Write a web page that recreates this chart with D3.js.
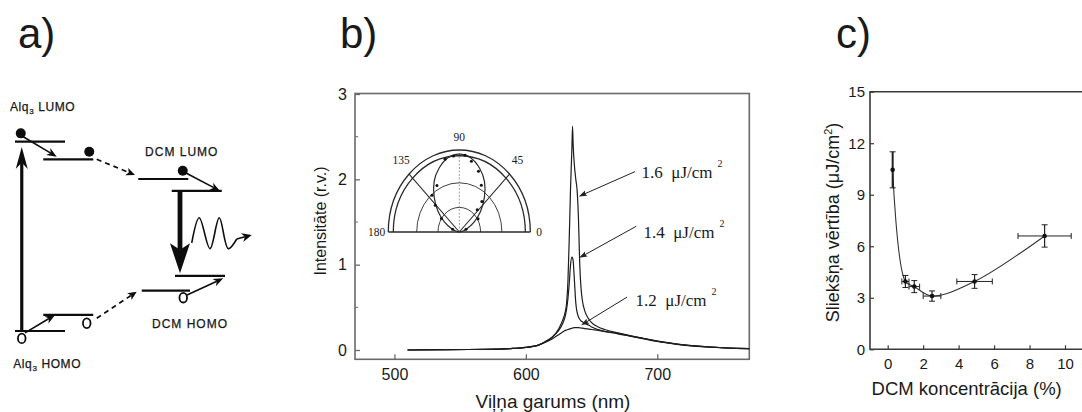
<!DOCTYPE html>
<html><head><meta charset="utf-8">
<script src="https://cdn.jsdelivr.net/npm/d3@7/dist/d3.min.js"></script>
<style>
html,body{margin:0;padding:0;background:#fff;}
svg{display:block;}
text{font-family:"Liberation Sans",Arial,Helvetica,sans-serif;fill:#1a1a1a;}
.serif{font-family:"Liberation Serif","Times New Roman",serif;}
</style></head><body>
<svg id="fig" width="1082" height="412"></svg>
<script>
// ---------- panel b: emission spectra at three pump fluences ----------
const wavelengths = [510,540,570,590,600,610,615,620,625,628,630,631,632,633,634,635,635.5,636,637,638,639,640,641,642,643,645,648,650,655,660,670,680,690,700,710,720,740,760,770];
const spectrum16 = [0.0,0.004,0.008,0.018,0.03,0.06,0.1,0.15,0.25,0.35,0.45,0.55,0.8,1.3,1.9,2.35,2.62,2.4,2.15,2.0,1.87,1.55,1.0,0.72,0.58,0.45,0.36,0.32,0.27,0.24,0.2,0.165,0.135,0.105,0.08,0.06,0.035,0.02,0.015];
const spectrum14 = [0.0,0.004,0.008,0.018,0.03,0.06,0.1,0.15,0.23,0.31,0.4,0.48,0.6,0.78,1.0,1.09,1.08,1.04,0.8,0.55,0.44,0.39,0.36,0.34,0.33,0.31,0.29,0.27,0.24,0.22,0.195,0.163,0.133,0.104,0.08,0.06,0.035,0.02,0.015];
const spectrum12 = [0.0,0.004,0.008,0.018,0.03,0.06,0.09,0.13,0.18,0.21,0.23,0.235,0.24,0.245,0.25,0.255,0.258,0.26,0.262,0.263,0.263,0.262,0.26,0.258,0.256,0.25,0.245,0.24,0.23,0.215,0.19,0.16,0.13,0.1,0.078,0.058,0.034,0.02,0.015];
const fluenceLabels = ["1.6", "1.4", "1.2"];
// label anchor and arrow tail/tip, in (nm, intensity)
const fluenceLabelPos = [[688, 2.02], [689.5, 1.31], [683.5, 0.51]];
const fluenceArrowTail = [[683, 2.09], [684, 1.45], [677, 0.62]];
const fluenceArrowTip = [[640.3, 1.8], [640.6, 1.08], [642, 0.29]];
const xTicksB = [500, 600, 700];
const yTicksB = [0, 1, 2, 3];
const yMinorB = [0.5, 1.5, 2.5];

// polar inset: emission angular distribution
const polarAngles = [0,10,20,30,40,50,60,70,80,90,100,110,120,130,140,150,160,170,180];
const polarFit = [0,0.03,0.11,0.24,0.39,0.55,0.71,0.83,0.92,0.95,0.92,0.83,0.71,0.55,0.39,0.24,0.11,0.03,0];
const polarPointAngles = [102.7,78.8,70,119,61.5,130.7,136,49.5,47,147,31.6,95,160,20,85];
const polarPointR = [0.91,0.88,0.79,0.65,0.65,0.59,0.47,0.49,0.37,0.30,0.31,0.93,0.1,0.1,0.94];
const polarRings = [0.3, 0.6, 0.93, 1.0];
const polarSpokes = [45, 135];
const polarLabels = [0, 45, 90, 135, 180];

// ---------- panel c: lasing threshold vs DCM concentration ----------
const concentration = [0.28, 1.0, 1.5, 2.5, 4.9, 8.85];
const threshold = [10.45, 3.95, 3.65, 3.1, 3.95, 6.6];
const concentrationErr = [0, 0.2, 0.3, 0.5, 1.0, 1.5];
const thresholdErr = [1.05, 0.35, 0.35, 0.3, 0.4, 0.65];
const xTicksC = [0, 2, 4, 6, 8, 10];
const yTicksC = [0, 3, 6, 9, 12, 15];

// ---------- panel a: energy level scheme (diagram units) ----------
const levels = [
  {x0:0, x1:2, e:10}, {x0:1.13, x1:3.13, e:9.07}, {x0:4.93, x1:6.93, e:8.03},
  {x0:6.27, x1:8.27, e:7.40}, {x0:6.4, x1:8.4, e:2.91}, {x0:5.07, x1:7.0, e:2.13},
  {x0:1.13, x1:3.13, e:0.85}, {x0:0, x1:2, e:0}
];
const electrons = [[0.23, 10.44], [2.97, 9.47], [6.71, 8.47]];
const holes = [[2.87, 0.41], [6.73, 1.76], [0.27, -0.39]];
const relaxArrows = [[[0.28,10.3],[1.67,9.21]], [[6.84,8.35],[8.2,7.40]], [[6.88,1.90],[8.33,2.78]], [[0.4,-0.1],[1.6,0.85]]];
const transferArrows = [[[3.27,9.07],[4.8,8.24]], [[3.27,0.67],[4.87,2.08]]];
const photonWave = [[7.07,4.65],[7.37,5.98],[7.8,4.35],[8.17,5.98],[8.53,4.35],[8.87,4.86],[9.47,5.07]];
const levelNames = [
  {t:"Alq", sub:"3", rest:" LUMO", x:-0.2, e:11.6, anchor:"start"},
  {t:"DCM LUMO", x:6.67, e:9.25, anchor:"middle"},
  {t:"DCM HOMO", x:7.0, e:0.18, anchor:"middle"},
  {t:"Alq", sub:"3", rest:" HOMO", x:-0.07, e:-1.94, anchor:"start"}
];

const svg = d3.select("#fig");
svg.append("rect").attr("width", 1082).attr("height", 412).attr("fill", "#fff");

function arrowHead(g, x1, y1, x2, y2, len, half, notch, color) {
  const a = Math.atan2(y2 - y1, x2 - x1);
  const ux = Math.cos(a), uy = Math.sin(a), px = -uy, py = ux;
  const bx = x2 - ux * len, by = y2 - uy * len;
  const nx = x2 - ux * len * (1 - notch), ny = y2 - uy * len * (1 - notch);
  g.append("path")
    .attr("d", `M${x2},${y2}L${bx + px * half},${by + py * half}L${nx},${ny}L${bx - px * half},${by - py * half}Z`)
    .attr("fill", color);
  return [nx, ny];
}
function arrow(g, x1, y1, x2, y2, opt) {
  const end = arrowHead(g, x1, y1, x2, y2, opt.len, opt.half, opt.notch, opt.color);
  g.append("line").attr("x1", x1).attr("y1", y1).attr("x2", end[0]).attr("y2", end[1])
    .attr("stroke", opt.color).attr("stroke-width", opt.width)
    .attr("stroke-dasharray", opt.dash || null);
}

// panel letters
[["a)", 18], ["b)", 340], ["c)", 836]].forEach(([t, x]) => {
  svg.append("text").attr("x", x).attr("y", 48).attr("font-size", 42).text(t);
});

// ================= panel a =================
{
  const g = svg.append("g");
  const dx = d3.scaleLinear([0, 10], [15, 265]);
  const de = d3.scaleLinear([0, 10], [331, 141.7]);
  const ink = "#0d0d0d";

  g.selectAll(".lvl").data(levels).join("line")
    .attr("x1", d => dx(d.x0)).attr("x2", d => dx(d.x1))
    .attr("y1", d => de(d.e)).attr("y2", d => de(d.e))
    .attr("stroke", ink).attr("stroke-width", 2.2);

  // pump absorption (up) and stimulated emission (down)
  arrow(g, dx(0.27), de(0), dx(0.27), de(9.72), {len: 22, half: 6, notch: 0.3, color: ink, width: 3.2});
  arrow(g, dx(6.6), de(7.36), dx(6.6), de(3.05), {len: 30, half: 10, notch: 0.22, color: ink, width: 4.8});

  relaxArrows.forEach(([a, b]) => arrow(g, dx(a[0]), de(a[1]), dx(b[0]), de(b[1]), {len: 10, half: 4, notch: 0.3, color: ink, width: 1.6}));
  transferArrows.forEach(([a, b]) => arrow(g, dx(a[0]), de(a[1]), dx(b[0]), de(b[1]), {len: 9, half: 4, notch: 0.25, color: ink, width: 1.7, dash: "5,4"}));

  // emitted photon
  const wave = d3.line().x(d => dx(d[0])).y(d => de(d[1])).curve(d3.curveCatmullRom.alpha(0.5));
  const wp = photonWave.slice(0, -1);
  g.append("path").attr("d", wave(wp)).attr("fill", "none").attr("stroke", ink).attr("stroke-width", 1.6);
  const last = photonWave[photonWave.length - 1], prev = photonWave[photonWave.length - 2];
  arrow(g, dx(prev[0]), de(prev[1]), dx(last[0]), de(last[1]), {len: 10, half: 4.5, notch: 0.3, color: ink, width: 1.6});

  // carriers
  g.selectAll(".el").data(electrons).join("circle")
    .attr("cx", d => dx(d[0])).attr("cy", d => de(d[1])).attr("r", 5).attr("fill", ink);
  g.selectAll(".ho").data(holes).join("ellipse")
    .attr("cx", d => dx(d[0])).attr("cy", d => de(d[1])).attr("rx", 3.8).attr("ry", 4.8)
    .attr("fill", "#fff").attr("stroke", ink).attr("stroke-width", 1.8);

  levelNames.forEach(d => {
    const t = g.append("text").attr("x", dx(d.x)).attr("y", de(d.e))
      .attr("font-size", 12).attr("letter-spacing", d.sub ? 0.6 : 1.0)
      .attr("text-anchor", d.anchor).attr("fill", "#111")
      .attr("stroke", "#111").attr("stroke-width", 0.25);
    if (d.sub) {
      t.append("tspan").text(d.t);
      t.append("tspan").attr("font-size", 8).attr("dy", 3).text(d.sub);
      t.append("tspan").attr("dy", -3).text(d.rest);
    } else t.text(d.t);
  });
}

// ================= panel b =================
{
  const g = svg.append("g");
  const L = 355, R = 749.3, T = 93.5, B = 359.3;
  const x = d3.scaleLinear([470, 770], [L, R]);
  const y = d3.scaleLinear([0, 3], [350, 94]);
  const axisCol = "#6a6a6a";

  g.append("rect").attr("x", L).attr("y", T).attr("width", R - L).attr("height", B - T)
    .attr("fill", "none").attr("stroke", axisCol).attr("stroke-width", 1.6);

  const ya = g.append("g").attr("transform", `translate(${L},0)`)
    .call(d3.axisLeft(y).tickValues(yTicksB).tickSizeInner(-5).tickSizeOuter(0).tickPadding(8).tickFormat(d3.format("d")));
  ya.select(".domain").remove();
  ya.selectAll("line").attr("stroke", axisCol).attr("stroke-width", 1.3);
  ya.selectAll("text").attr("font-size", 16).attr("font-family", "Liberation Sans, Arial, sans-serif").attr("fill", "#1a1a1a");
  g.selectAll(".ymin").data(yMinorB).join("line")
    .attr("x1", L).attr("x2", L + 3).attr("y1", d => y(d)).attr("y2", d => y(d))
    .attr("stroke", axisCol).attr("stroke-width", 1);

  const xa = g.append("g").attr("transform", `translate(0,${B})`)
    .call(d3.axisBottom(x).tickValues(xTicksB).tickSizeInner(-5).tickSizeOuter(0).tickPadding(9).tickFormat(d3.format("d")));
  xa.select(".domain").remove();
  xa.selectAll("line").attr("stroke", axisCol).attr("stroke-width", 1.3);
  xa.selectAll("text").attr("font-size", 16).attr("font-family", "Liberation Sans, Arial, sans-serif").attr("fill", "#1a1a1a");

  g.append("text").attr("x", 553).attr("y", 408).attr("text-anchor", "middle").attr("font-size", 19).text("Viļņa garums (nm)");
  g.append("text").attr("transform", "translate(326,221) rotate(-90)").attr("text-anchor", "middle")
    .attr("font-size", 16).text("Intensitāte (r.v.)");

  const line = d3.line().x((d, i) => x(wavelengths[i])).y(d => y(d)).curve(d3.curveMonotoneX);
  [spectrum12, spectrum14, spectrum16].forEach(s => {
    g.append("path").attr("d", line(s)).attr("fill", "none").attr("stroke", "#1c1c1c").attr("stroke-width", 1.2);
  });

  fluenceLabels.forEach((lab, i) => {
    const [lx, ly] = fluenceLabelPos[i];
    const t = g.append("text").attr("class", "serif").attr("x", x(lx)).attr("y", y(ly)).attr("font-size", 17);
    t.append("tspan").text(lab + "\u00a0 \u03bcJ/cm");
    t.append("tspan").attr("font-size", 10).attr("dx", 5).attr("dy", -11).text("2");
    const a = fluenceArrowTail[i], b = fluenceArrowTip[i];
    arrow(g, x(a[0]), y(a[1]), x(b[0]), y(b[1]), {len: 8, half: 2.8, notch: 0.15, color: "#222", width: 1});
  });

  // polar inset
  const cx = 459.3, cy = 232;
  const rx = d3.scaleLinear([0, 1], [0, 71]);
  const ry = d3.scaleLinear([0, 1], [0, 82]);
  const pol = (deg, r) => [cx + rx(r) * Math.cos(deg * Math.PI / 180), cy - ry(r) * Math.sin(deg * Math.PI / 180)];
  const ink = "#2a2a2a";
  polarRings.forEach(r => {
    g.append("path").attr("d", `M${cx + rx(r)},${cy}A${rx(r)},${ry(r)} 0 0 0 ${cx - rx(r)},${cy}`)
      .attr("fill", "none").attr("stroke", ink).attr("stroke-width", r > 0.9 ? 1.3 : 0.9);
  });
  polarSpokes.forEach(a => {
    const p = pol(a, 1);
    g.append("line").attr("x1", cx).attr("y1", cy).attr("x2", p[0]).attr("y2", p[1]).attr("stroke", ink).attr("stroke-width", 1.1);
  });
  {
    const p = pol(90, 1);
    g.append("line").attr("x1", cx).attr("y1", cy).attr("x2", p[0]).attr("y2", p[1]).attr("stroke", "#777").attr("stroke-width", 0.7).attr("stroke-dasharray", "2,1.5");
  }
  g.append("line").attr("x1", pol(180, 1)[0]).attr("x2", pol(0, 1)[0]).attr("y1", cy).attr("y2", cy).attr("stroke", ink).attr("stroke-width", 1.6);
  const pl = d3.line().x((d, i) => pol(polarAngles[i], d)[0]).y((d, i) => pol(polarAngles[i], d)[1]).curve(d3.curveCardinal);
  g.append("path").attr("d", pl(polarFit)).attr("fill", "none").attr("stroke", ink).attr("stroke-width", 1.2);
  g.selectAll(".pp").data(polarPointR).join("circle")
    .attr("cx", (d, i) => pol(polarPointAngles[i], d)[0]).attr("cy", (d, i) => pol(polarPointAngles[i], d)[1])
    .attr("r", 1.5).attr("fill", "#111");
  polarLabels.forEach(a => {
    const p = pol(a, 1);
    let tx = p[0], ty = p[1], anchor = "middle";
    if (a === 0) { tx = p[0] + 6; ty = cy + 4; anchor = "start"; }
    else if (a === 180) { tx = p[0] - 3; ty = cy + 4; anchor = "end"; }
    else if (a === 90) { ty = p[1] - 9; }
    else if (a === 45) { tx = p[0] + 8; ty = p[1] - 10; }
    else if (a === 135) { tx = p[0] - 8; ty = p[1] - 10; }
    g.append("text").attr("class", "serif").attr("x", tx).attr("y", ty).attr("text-anchor", anchor)
      .attr("font-size", 11.5).attr("fill", "#333").text(a);
  });
}

// ================= panel c =================
{
  const g = svg.append("g");
  const L = 870, R = 1082, T = 91.7, B = 349.3;
  const x = d3.scaleLinear([0, 10], [887.7, 1065]);
  const y = d3.scaleLinear([0, 15], [B, T]);
  const axisCol = "#3a3a3a";

  g.append("path").attr("d", `M${R},${T}H${L}V${B}H${R}`).attr("fill", "none").attr("stroke", axisCol).attr("stroke-width", 1.6);

  const ya = g.append("g").attr("transform", `translate(${L},0)`)
    .call(d3.axisLeft(y).tickValues(yTicksC).tickSizeInner(-4).tickSizeOuter(0).tickPadding(5));
  ya.select(".domain").remove();
  ya.selectAll("line").attr("stroke", axisCol).attr("stroke-width", 1.2);
  ya.selectAll("text").attr("font-size", 15).attr("font-family", "Liberation Sans, Arial, sans-serif").attr("fill", "#1a1a1a");

  const xa = g.append("g").attr("transform", `translate(0,${B})`)
    .call(d3.axisBottom(x).tickValues(xTicksC).tickSizeInner(-4).tickSizeOuter(0).tickPadding(9));
  xa.select(".domain").remove();
  xa.selectAll("line").attr("stroke", axisCol).attr("stroke-width", 1.2);
  xa.selectAll("text").attr("font-size", 15).attr("font-family", "Liberation Sans, Arial, sans-serif").attr("fill", "#1a1a1a");

  g.append("text").attr("x", 966.7).attr("y", 395).attr("text-anchor", "middle").attr("font-size", 18.5).text("DCM koncentrācija (%)");
  const yt = g.append("text").attr("transform", "translate(838.5,222.5) rotate(-90)").attr("text-anchor", "middle").attr("font-size", 18);
  yt.append("tspan").text("Sliekšņa vērtība (\u03bcJ/cm");
  yt.append("tspan").attr("font-size", 11).attr("dy", -7).text("2");
  yt.append("tspan").attr("dy", 7).text(")");

  const pts = concentration.map((c, i) => [c, threshold[i]]);
  g.append("path").attr("d", d3.line().x(d => x(d[0])).y(d => y(d[1])).curve(d3.curveCatmullRom.alpha(0.5))(pts))
    .attr("fill", "none").attr("stroke", "#333").attr("stroke-width", 1.1);

  const eb = "#222";
  pts.forEach((p, i) => {
    const px = x(p[0]), py = y(p[1]);
    const y0 = y(p[1] - thresholdErr[i]), y1 = y(p[1] + thresholdErr[i]);
    g.append("line").attr("x1", px).attr("x2", px).attr("y1", y0).attr("y2", y1).attr("stroke", eb).attr("stroke-width", i === 0 ? 2 : 1.2);
    [y0, y1].forEach(v => g.append("line").attr("x1", px - 3).attr("x2", px + 3).attr("y1", v).attr("y2", v).attr("stroke", eb).attr("stroke-width", 1));
    if (concentrationErr[i] > 0) {
      const x0 = x(p[0] - concentrationErr[i]), x1 = x(p[0] + concentrationErr[i]);
      g.append("line").attr("x1", x0).attr("x2", x1).attr("y1", py).attr("y2", py).attr("stroke", eb).attr("stroke-width", 1);
      [x0, x1].forEach(v => g.append("line").attr("x1", v).attr("x2", v).attr("y1", py - 3).attr("y2", py + 3).attr("stroke", eb).attr("stroke-width", 1));
    }
    g.append("circle").attr("cx", px).attr("cy", py).attr("r", 2.3).attr("fill", "#111");
  });
}
</script>
</body></html>
